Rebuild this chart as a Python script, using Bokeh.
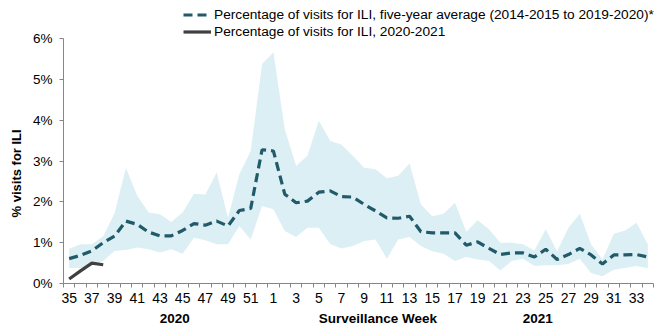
from bokeh.plotting import figure
from bokeh.models import (Range1d, FixedTicker, LinearAxis, Legend, LegendItem)
from bokeh.embed import file_html
from bokeh.resources import INLINE

# ---------------- data ----------------
weeks = [35, 36, 37, 38, 39, 40, 41, 42, 43, 44, 45, 46, 47, 48, 49, 50, 51, 52,
         1, 2, 3, 4, 5, 6, 7, 8, 9, 10, 11, 12, 13, 14, 15, 16, 17, 18, 19, 20,
         21, 22, 23, 24, 25, 26, 27, 28, 29, 30, 31, 32, 33, 34]

avg_5yr = [0.61, 0.69, 0.80, 1.00, 1.16, 1.53, 1.45, 1.26, 1.17, 1.17, 1.30, 1.47,
           1.43, 1.53, 1.41, 1.79, 1.84, 3.28, 3.25, 2.19, 1.98, 2.02, 2.24, 2.27,
           2.13, 2.12, 1.94, 1.78, 1.61, 1.60, 1.65, 1.27, 1.24, 1.24, 1.24, 0.94,
           1.02, 0.86, 0.71, 0.75, 0.75, 0.65, 0.84, 0.59, 0.71, 0.86, 0.70, 0.48,
           0.70, 0.70, 0.71, 0.65]

upper_5yr = [0.85, 0.96, 0.96, 1.16, 1.72, 2.83, 2.15, 1.74, 1.70, 1.51, 1.74, 2.20,
             2.18, 2.72, 1.61, 2.68, 3.25, 5.38, 5.67, 3.79, 2.88, 3.13, 3.99, 3.50,
             3.40, 3.13, 2.84, 2.80, 2.58, 2.64, 2.94, 1.94, 1.65, 1.71, 1.98, 1.27,
             1.55, 1.33, 1.00, 1.00, 0.96, 0.81, 1.33, 0.79, 1.37, 1.71, 0.96, 0.59,
             1.22, 1.30, 1.49, 0.96]

lower_5yr = [0.38, 0.38, 0.45, 0.55, 0.80, 0.82, 0.88, 0.84, 0.76, 0.84, 0.73, 1.12,
             1.06, 0.96, 0.96, 1.41, 1.08, 1.90, 1.82, 1.29, 1.14, 1.37, 1.37, 0.97,
             0.86, 0.92, 1.04, 1.08, 0.61, 1.08, 1.14, 0.92, 0.79, 0.73, 0.55, 0.65,
             0.59, 0.55, 0.32, 0.55, 0.61, 0.43, 0.45, 0.45, 0.48, 0.61, 0.26, 0.18,
             0.34, 0.38, 0.43, 0.38]

current = [0.11, 0.31, 0.50, 0.46]

y_ticks = [0, 1, 2, 3, 4, 5, 6]
group_labels = ["2020", "Surveillance Week", "2021"]

label_avg = "Percentage of visits for ILI, five-year average (2014-2015 to 2019-2020)*"
label_cur = "Percentage of visits for ILI, 2020-2021"
y_title = "% visits for ILI"

# ---------------- style ----------------
FONT = "Liberation Sans"
AXIS_COL = "#868686"
TEAL = "#215A69"
DARK = "#404040"
BAND = "#DCEFF5"

n = len(weeks)
xc = [i + 0.5 for i in range(n)]
xcur = xc[:len(current)]

p = figure(width=671, height=331, output_backend="svg", toolbar_location=None,
           x_range=Range1d(0, 52.88), y_range=Range1d(0, 6.94),
           min_border_left=63, min_border_right=8, min_border_top=0,
           min_border_bottom=48)
p.outline_line_color = None
p.xgrid.visible = False
p.ygrid.visible = False
p.background_fill_color = "white"
p.border_fill_color = "white"

band = p.varea(x=xc, y1=lower_5yr, y2=upper_5yr, fill_color=BAND, fill_alpha=1.0)
r_avg = p.line(x=xc, y=avg_5yr, line_color=TEAL, line_width=3.2,
               line_dash="9 5", line_cap="butt")
r_cur = p.line(x=xcur, y=current, line_color=DARK, line_width=3.2)

# ---- y axis ----
ya = p.yaxis[0]
ya.ticker = FixedTicker(ticks=y_ticks)
ya.bounds = (0, 6)
ya.major_label_overrides = {t: f"{t}%" for t in y_ticks}
ya.axis_line_color = AXIS_COL
ya.major_tick_line_color = AXIS_COL
ya.major_tick_in = 0
ya.major_tick_out = 4
ya.minor_tick_line_color = None
ya.major_label_standoff = 7
ya.major_label_text_font = FONT
ya.major_label_text_font_size = "13.5px"
ya.major_label_text_color = "#000000"

# y title as a second left axis with a single rotated label
yt = LinearAxis(ticker=FixedTicker(ticks=[2.7]),
                major_label_overrides={2.7: y_title},
                major_label_orientation="vertical",
                axis_line_color=None, major_tick_line_color=None,
                minor_tick_line_color=None, major_tick_in=0, major_tick_out=0,
                major_label_standoff=5, major_label_text_font=FONT,
                major_label_text_font_size="13px",
                major_label_text_font_style="bold",
                major_label_text_color="#000000")
p.add_layout(yt, "left")

# ---- x axis ----
xa = p.xaxis[0]
label_pos = [xc[i] for i in range(0, n, 2)]
xa.ticker = FixedTicker(ticks=label_pos, minor_ticks=list(range(n + 1)))
xa.major_label_overrides = {xc[i]: str(weeks[i]) for i in range(0, n, 2)}
xa.bounds = (0, n)
xa.axis_line_color = AXIS_COL
xa.major_tick_line_color = None
xa.major_tick_in = 0
xa.major_tick_out = 4
xa.minor_tick_line_color = AXIS_COL
xa.minor_tick_in = 0
xa.minor_tick_out = 4
xa.major_label_standoff = 5
xa.major_label_text_font = FONT
xa.major_label_text_font_size = "14px"
xa.major_label_text_color = "#000000"

grp_pos = [9.8, 27.7, 41.8]
xg = LinearAxis(ticker=FixedTicker(ticks=grp_pos),
                major_label_overrides={grp_pos[k]: group_labels[k] for k in range(3)},
                axis_line_color=None, major_tick_line_color=None,
                minor_tick_line_color=None, major_tick_in=0, major_tick_out=0,
                major_label_standoff=5, major_label_text_font=FONT,
                major_label_text_font_size="13.5px",
                major_label_text_font_style="bold",
                major_label_text_color="#000000")
p.add_layout(xg, "below")

# ---- legend ----
legend = Legend(items=[LegendItem(label=label_avg, renderers=[r_avg]),
                       LegendItem(label=label_cur, renderers=[r_cur])],
                location=(120, 243), margin=0, padding=0, spacing=0,
                label_height=17, glyph_height=17, glyph_width=28,
                label_standoff=3, label_text_font=FONT,
                label_text_font_size="13.7px", label_text_color="#000000",
                background_fill_alpha=0, border_line_color=None)
p.add_layout(legend)

open("out.html", "w").write(file_html(p, INLINE))
